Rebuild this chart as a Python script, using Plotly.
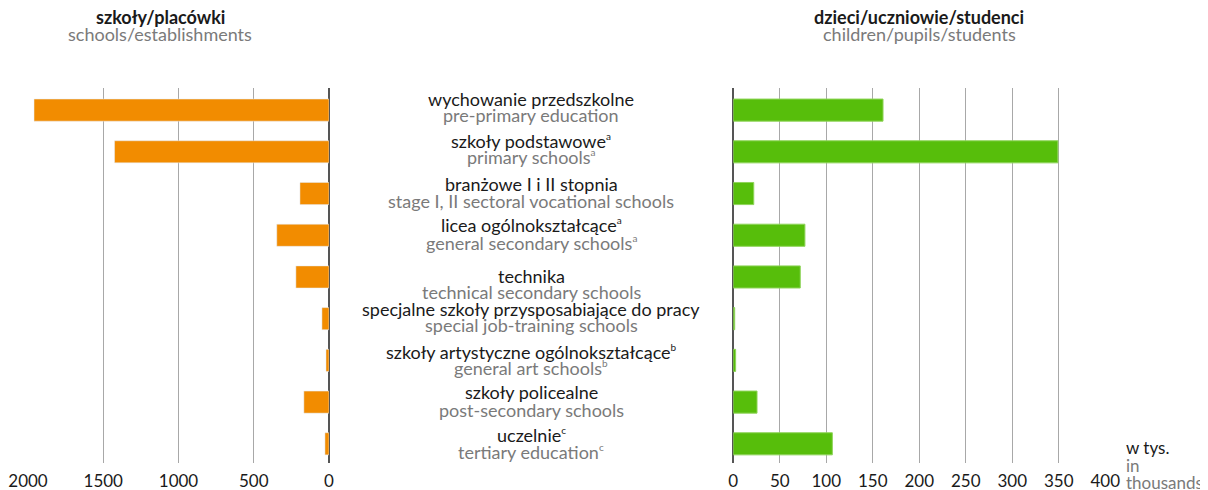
import plotly.graph_objects as go

# categories (Polish / English), top to bottom
SUP = "<sup><span style='font-size:10px'>{}</span></sup>"
labels_pl = [
    "wychowanie przedszkolne",
    "szkoły podstawowe" + SUP.format("a"),
    "branżowe I i II stopnia",
    "licea ogólnokształcące" + SUP.format("a"),
    "technika",
    "specjalne szkoły przysposabiające do pracy",
    "szkoły artystyczne ogólnokształcące" + SUP.format("b"),
    "szkoły policealne",
    "uczelnie" + SUP.format("c"),
]
labels_en = [
    "pre-primary education",
    "primary schools" + SUP.format("a"),
    "stage I, II sectoral vocational schools",
    "general secondary schools" + SUP.format("a"),
    "technical secondary schools",
    "special job-training schools",
    "general art schools" + SUP.format("b"),
    "post-secondary schools",
    "tertiary education" + SUP.format("c"),
]
schools = [1960, 1425, 193, 347, 220, 47, 20, 167, 27]
students = [161, 349, 22, 77, 72, 1.5, 2.5, 25.5, 106.5]

left_ticks = [0, 500, 1000, 1500, 2000]
right_ticks = [0, 50, 100, 150, 200, 250, 300, 350, 400]

# page body has an 8px margin, so the figure is 8px smaller and all
# reference pixel positions are shifted by 8
OFF = 8
W, H = 1208 - OFF, 490 - OFF
ORANGE = "#F28C00"
GREEN = "#57BE0B"
DARK = "#1a1a1a"
GREY = "#7a7a7a"
FONT = "Lato"
FS = 18


def px(x):
    return (x - OFF) / W


def py(y):
    return 1 - (y - OFF) / H


rows = list(range(len(labels_pl)))

fig = go.Figure()
fig.add_trace(go.Bar(x=schools, y=rows, orientation="h", marker_color=ORANGE,
                     width=0.53, xaxis="x", yaxis="y", showlegend=False))
fig.add_trace(go.Bar(x=students, y=rows, orientation="h", marker_color=GREEN,
                     marker_line=dict(color="#8fd45a", width=1),
                     width=0.53, xaxis="x2", yaxis="y2", showlegend=False))

yrange = [8.46, -0.53]
ydom = [py(463), py(88)]
axis_common = dict(showgrid=True, gridcolor="#a8a8a8", gridwidth=1,
                   zeroline=True, zerolinecolor="#555555", zerolinewidth=1.5,
                   showline=False, ticks="outside", ticklen=3,
                   tickcolor="rgba(0,0,0,0)", fixedrange=True,
                   tickfont=dict(family=FONT, size=17, color=DARK))

fig.update_layout(
    width=W, height=H,
    margin=dict(l=0, r=0, t=0, b=0, autoexpand=False),
    paper_bgcolor="white", plot_bgcolor="white",
    font=dict(family=FONT, color=DARK),
    xaxis=dict(domain=[px(28), px(329)], range=[2000, 0], tickvals=left_ticks,
               anchor="y", **axis_common),
    xaxis2=dict(domain=[px(733.3), px(1105.3)], range=[0, 400], tickvals=right_ticks,
                anchor="y2", **axis_common),
    yaxis=dict(domain=ydom, range=yrange, visible=False),
    yaxis2=dict(domain=ydom, range=yrange, visible=False, anchor="x2"),
)


def txt(x, y, s, color=DARK, size=FS, xanchor="center", yref="paper", yshift=0, bold=False):
    fig.add_annotation(x=x, xref="paper", y=y, yref=yref, yshift=yshift,
                       text=f"<b>{s}</b>" if bold else s, showarrow=False,
                       xanchor=xanchor, yanchor="middle",
                       font=dict(family=FONT, size=size, color=color))


# centre labels: pixel shifts of the two lines relative to the bar centre
pl_shift = [11, 11, 10, 10, 1, 10, 8, 10, 9]
en_shift = [-5, -5, -7, -8, -15, -6, -8, -8, -8]
for i in rows:
    txt(px(531), i, labels_pl[i], DARK, yref="y", yshift=pl_shift[i])
    txt(px(531), i, labels_en[i], GREY, yref="y", yshift=en_shift[i])

# panel titles
txt(px(160), py(17), "szkoły/placówki", bold=True, size=18)
txt(px(160), py(34), "schools/establishments", GREY)
txt(px(919), py(17), "dzieci/uczniowie/studenci", bold=True, size=18)
txt(px(919), py(34), "children/pupils/students", GREY)

# unit note
txt(px(1124), py(447), "w tys.", DARK, size=17, xanchor="left")
txt(px(1124), py(465), "in", GREY, size=17, xanchor="left")
txt(px(1124), py(482), "thousands", GREY, size=17, xanchor="left")

fig.write_html("out.html")
